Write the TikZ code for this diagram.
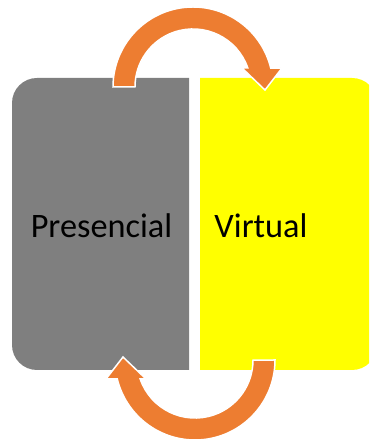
\documentclass[tikz,border=0pt]{standalone}
\usepackage{fontspec}
\setmainfont{Carlito}
\usepackage{xcolor}
\usepackage{tikz}
\usetikzlibrary{
    calc,
    positioning
}
\definecolor{boxgray}{HTML}{7F7F7F}
\definecolor{boxyellow}{HTML}{FFFF00}
\definecolor{arroworange}{HTML}{ED7D31}
\tikzset{
    label/.style={font=\fontsize{34.3}{41}\selectfont, text=black, inner sep=0pt},
    turnarrow/.pic={
        \filldraw[fill=arroworange, draw=white, line width=1.5pt, line join=miter]
        (-80,0) arc[start angle=180, end angle=13.7, radius=80]
        -- (89,19) -- (72,-3) -- (49,19) -- (54.8,19)
        arc[start angle=19.1, end angle=180, radius=58] -- cycle;
    }
}

\begin{document}
\begin{tikzpicture}[x=1pt, y=1pt]
                    \useasboundingbox (0,0) rectangle (369,441);
                    \clip (0,0) rectangle (369,441);

                    \fill[boxgray] (189,71) -- (37,71)
                        arc[start angle=-90, end angle=-180, radius=25] -- (12,338)
                        arc[start angle=180, end angle=90, radius=25] -- (189,363) -- cycle;
                    \fill[boxyellow] (200,71) -- (352,71)
                        arc[start angle=-90, end angle=0, radius=25] -- (377,338)
                        arc[start angle=0, end angle=90, radius=25] -- (200,363) -- cycle;

                    \node[label, anchor=base] (p) at (101.5,203.5) {Presencial};
                    \node[label, anchor=base] (v) at (261,203.5) {Virtual};

                    \coordinate (up) at (193,354);
                    \coordinate (down) at (195,81);
                    \pic at (up) {turnarrow};
                    \pic[rotate=180] at (down) {turnarrow};
                \end{tikzpicture}
\end{document}
